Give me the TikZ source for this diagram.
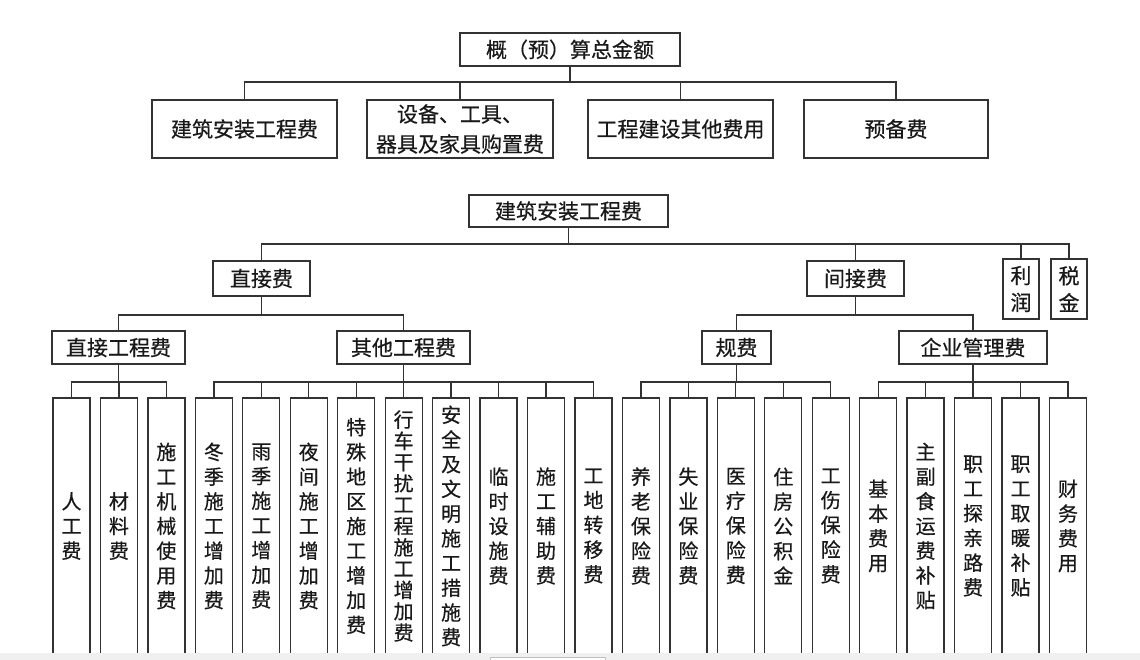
\documentclass[tikz,border=0pt]{standalone}
\usepackage{fontspec}
\setmainfont{Noto Sans CJK SC}[FakeBold=0.5]
\begin{document}
\begin{tikzpicture}[x=1pt,y=-1pt,
  conn/.style={draw=black!80, line width=1.3pt},
  box/.style={draw=black!80, line width=1.3pt, rectangle, inner sep=0pt, text=black!90,
    font=\fontsize{21pt}{30pt}\selectfont, align=center},
  vbox/.style={box, font=\fontsize{21pt}{27pt}\selectfont, minimum width=36pt, minimum height=60pt},
  colbox/.style={box, font=\fontsize{20pt}{24.7pt}\selectfont, minimum width=37pt, minimum height=256pt},
  tightcol/.style={colbox, font=\fontsize{20pt}{21.3pt}\selectfont}
]
\useasboundingbox (0,0) rectangle (1140,660);

% ---------- upper diagram ----------
\node[box, minimum width=220pt, minimum height=33pt] (top) at (570,49.5) {概（预）算总金额};
\node[box, minimum width=185pt, minimum height=58pt] (A) at (244.5,129) {建筑安装工程费};
\node[box, minimum width=186pt, minimum height=58pt] (B) at (460,129) {设备、工具、\\器具及家具购置费};
\node[box, minimum width=185pt, minimum height=58pt] (C) at (680.5,129) {工程建设其他费用};
\node[box, minimum width=184pt, minimum height=58pt] (D) at (896,129) {预备费};

\coordinate (bus1) at (0,82);
\draw[conn] (top.south) -- (top.south |- bus1);
\draw[conn] (A.north) |- (D.north |- bus1) -- (D.north);
\foreach \c in {B,C} \draw[conn] (\c.north) -- (\c.north |- bus1);

% ---------- lower diagram ----------
\node[box, minimum width=199pt, minimum height=32pt] (root) at (568.5,211) {建筑安装工程费};
\node[box, minimum width=97pt, minimum height=35pt] (zj) at (261.5,278.5) {直接费};
\node[box, minimum width=97pt, minimum height=35pt] (jj) at (855.5,278.5) {间接费};
\node[vbox] (lr) at (1021,289) {利\\润};
\node[vbox] (sj) at (1069,289) {税\\金};

\coordinate (bus2) at (0,244);
\draw[conn] (root.south) -- (root.south |- bus2);
\draw[conn] (zj.north) |- (sj.north |- bus2) -- (sj.north);
\foreach \c in {jj,lr} \draw[conn] (\c.north) -- (\c.north |- bus2);

\node[box, minimum width=133pt, minimum height=33pt] (zjgc) at (118.5,347.5) {直接工程费};
\node[box, minimum width=133pt, minimum height=33pt] (qtgc) at (403.5,347.5) {其他工程费};
\node[box, minimum width=69pt, minimum height=33pt] (gf) at (736.5,347.5) {规费};
\node[box, minimum width=148pt, minimum height=33pt] (qygl) at (973,347.5) {企业管理费};

\coordinate (bus3) at (0,315);
\draw[conn] (zj.south) -- (zj.south |- bus3);
\draw[conn] (zjgc.north) |- (qtgc.north |- bus3) -- (qtgc.north);
\draw[conn] (jj.south) -- (jj.south |- bus3);
\draw[conn] (gf.north) |- (qygl.north |- bus3) -- (qygl.north);

% ---------- columns ----------
\node[colbox] (c1)  at (71.5,526)  {人\\工\\费};
\node[colbox] (c2)  at (118.95,526) {材\\料\\费};
\node[colbox] (c3)  at (166.4,526) {施\\工\\机\\械\\使\\用\\费};
\node[colbox] (c4)  at (213.85,526) {冬\\季\\施\\工\\增\\加\\费};
\node[colbox] (c5)  at (261.3,526) {雨\\季\\施\\工\\增\\加\\费};
\node[colbox] (c6)  at (308.75,526) {夜\\间\\施\\工\\增\\加\\费};
\node[colbox] (c7)  at (356.2,526) {特\\殊\\地\\区\\施\\工\\增\\加\\费};
\node[tightcol] (c8) at (403.65,526) {行\\车\\干\\扰\\工\\程\\施\\工\\增\\加\\费};
\node[colbox] (c9)  at (451.1,526) {安\\全\\及\\文\\明\\施\\工\\措\\施\\费};
\node[colbox] (c10) at (498.55,526) {临\\时\\设\\施\\费};
\node[colbox] (c11) at (546,526)   {施\\工\\辅\\助\\费};
\node[colbox] (c12) at (593.45,526) {工\\地\\转\\移\\费};
\node[colbox] (c13) at (640.9,526) {养\\老\\保\\险\\费};
\node[colbox] (c14) at (688.35,526) {失\\业\\保\\险\\费};
\node[colbox] (c15) at (735.8,526) {医\\疗\\保\\险\\费};
\node[colbox] (c16) at (783.25,526) {住\\房\\公\\积\\金};
\node[colbox] (c17) at (830.7,526) {工\\伤\\保\\险\\费};
\node[colbox] (c18) at (878.15,526) {基\\本\\费\\用};
\node[colbox] (c19) at (925.6,526) {主\\副\\食\\运\\费\\补\\贴};
\node[colbox] (c20) at (973.05,526) {职\\工\\探\\亲\\路\\费};
\node[colbox] (c21) at (1020.5,526) {职\\工\\取\\暖\\补\\贴};
\node[colbox] (c22) at (1067.95,526) {财\\务\\费\\用};

\coordinate (bus4) at (0,382);
% 直接工程费
\draw[conn] (zjgc.south) -- (zjgc.south |- bus4);
\draw[conn] (c1.north) |- (c3.north |- bus4) -- (c3.north);
\draw[conn] (c2.north) -- (c2.north |- bus4);
% 其他工程费
\draw[conn] (qtgc.south) -- (qtgc.south |- bus4);
\draw[conn] (c4.north) |- (c12.north |- bus4) -- (c12.north);
\foreach \c in {c5,c6,c7,c8,c9,c10,c11} \draw[conn] (\c.north) -- (\c.north |- bus4);
% 规费
\draw[conn] (gf.south) -- (gf.south |- bus4);
\draw[conn] (c13.north) |- (c17.north |- bus4) -- (c17.north);
\foreach \c in {c14,c15,c16} \draw[conn] (\c.north) -- (\c.north |- bus4);
% 企业管理费
\draw[conn] (qygl.south) -- (qygl.south |- bus4);
\draw[conn] (c18.north) |- (c22.north |- bus4) -- (c22.north);
\foreach \c in {c19,c20,c21} \draw[conn] (\c.north) -- (\c.north |- bus4);

% ---------- bottom band of the screenshot ----------
\fill[black!6] (0,653) rectangle (1140,662);
\draw[black!25, fill=white, line width=0.8pt] (490,657) rectangle (605,664);
\end{tikzpicture}
\end{document}
